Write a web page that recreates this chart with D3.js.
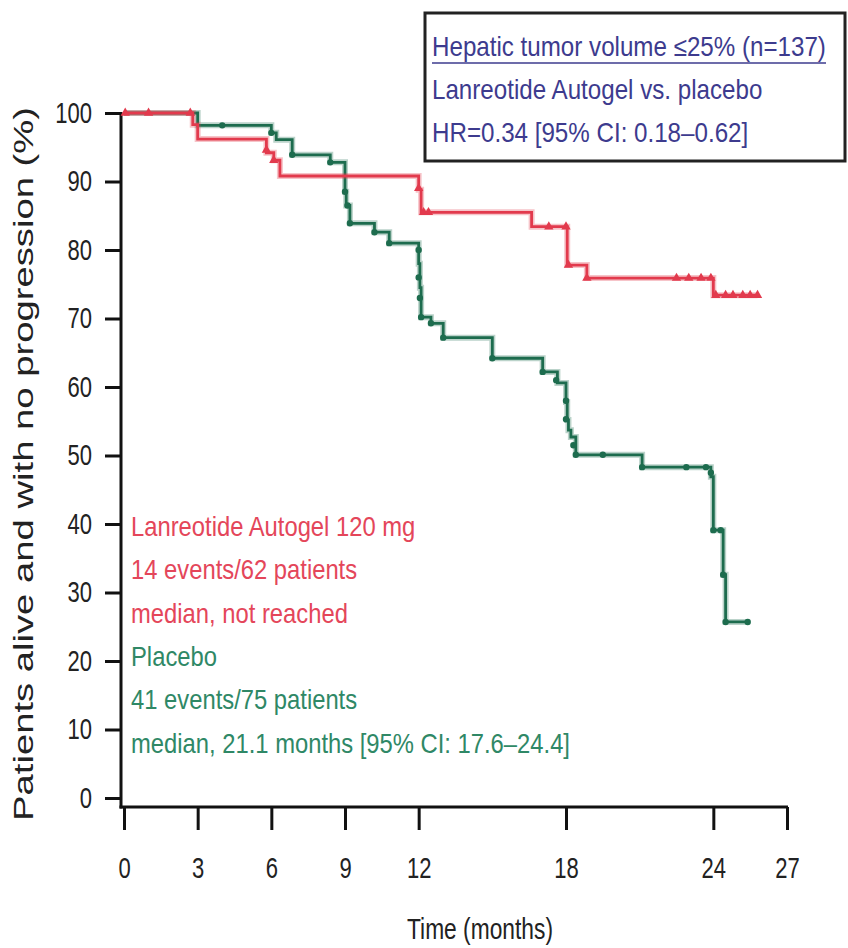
<!DOCTYPE html>
<html>
<head>
<meta charset="utf-8">
<script src="https://cdn.jsdelivr.net/npm/d3@7"></script>
<style>
  html, body { margin: 0; padding: 0; background: #fff; }
  svg { display: block; font-family: "Liberation Sans", Arial, sans-serif; }
</style>
</head>
<body>
<div id="graph_container"></div>
<script>
// axis ticks
const xTicks = [0, 3, 6, 9, 12, 18, 24, 27];
const yTicks = [0, 10, 20, 30, 40, 50, 60, 70, 80, 90, 100];

// Lanreotide Autogel 120 mg: step times (months) and survival after each step (%)
const lanTimes = [0, 2.8, 3.0, 5.8, 6.1, 6.35, 12.0, 12.1, 16.6, 18.05, 18.85, 24.0];
const lanSurv = [100, 98.3, 96.2, 94.2, 93.1, 90.8, 88.8, 85.5, 83.4, 77.8, 75.9, 73.4];
const lanEnd = 25.8;
const lanCensorTimes = [0.05, 1.0, 2.7, 5.8, 6.1, 12.0, 12.2, 12.4, 17.3, 18.0, 18.1, 18.85, 22.5, 23.0, 23.5, 23.9, 24.1, 24.5, 24.8, 25.2, 25.5, 25.8];
const lanCensorSurv = [100, 100, 100, 94.6, 93.1, 89.0, 85.5, 85.5, 83.4, 83.4, 77.8, 75.9, 75.9, 75.9, 75.9, 75.9, 73.4, 73.4, 73.4, 73.4, 73.4, 73.4];

// Placebo
const plaTimes = [0, 3.0, 6.0, 6.2, 6.85, 8.4, 9.0, 9.05, 9.2, 10.2, 10.8, 12.0, 12.05, 12.1, 12.5, 13.0, 15.0, 17.05, 17.65, 18.0, 18.05, 18.1, 18.2, 18.4, 21.1, 23.9, 24.0, 24.4, 24.5];
const plaSurv = [100, 98.2, 97.1, 96.1, 93.9, 92.8, 88.5, 86.5, 83.9, 82.6, 81.0, 78.0, 74.5, 70.2, 69.3, 67.2, 64.2, 62.2, 60.6, 57.8, 55.2, 53.7, 52.7, 50.1, 48.3, 46.9, 39.1, 32.6, 25.7];
const plaEnd = 25.4;
const plaCensorTimes = [4.0, 6.0, 6.85, 8.4, 9.0, 9.1, 9.2, 10.2, 10.8, 12.0, 12.0, 12.05, 12.1, 12.5, 13.0, 15.0, 17.05, 17.6, 18.0, 18.0, 18.3, 18.4, 19.5, 21.1, 22.9, 23.7, 23.9, 24.0, 24.3, 24.4, 24.5, 25.4];
const plaCensorSurv = [98.2, 97.1, 93.9, 92.8, 88.5, 86.5, 83.9, 82.6, 81.0, 80.0, 76.0, 73.0, 70.2, 69.3, 67.2, 64.2, 62.2, 61.0, 58.0, 55.3, 51.5, 50.1, 50.1, 48.3, 48.3, 48.3, 47.5, 39.1, 39.1, 32.6, 25.7, 25.7];

// annotation texts
const boxLines = ['Hepatic tumor volume \u226425% (n=137)', 'Lanreotide Autogel vs. placebo', 'HR=0.34 [95% CI: 0.18\u20130.62]'];
const lanLines = ['Lanreotide Autogel 120 mg', '14 events/62 patients', 'median, not reached'];
const plaLines = ['Placebo', '41 events/75 patients', 'median, 21.1 months [95% CI: 17.6\u201324.4]'];

const RED = '#e23a4d';
const GREEN = '#1d6c4e';
const RED_TEXT = '#e4465a';
const GREEN_TEXT = '#2f8866';
const BOX_TEXT = '#3d3b8e';
const NARROW = 0.76;

let svg, x, y;
const width = 848;
const height = 948;

function prepare() {
    svg = d3.select('#graph_container').append('svg')
        .attr('width', width).attr('height', height);

    x = d3.scaleLinear().domain([0, 27]).range([124, 787]);
    y = d3.scaleLinear().domain([0, 100]).range([798, 113]);
}

function drawAxes() {
    const axisY = 807;
    const axisX = 121;

    const gx = svg.append('g')
        .attr('transform', 'translate(0,' + axisY + ')')
        .call(d3.axisBottom(x).tickValues(xTicks).tickSize(23).tickSizeOuter(0).tickPadding(27));
    gx.select('.domain').remove();
    gx.selectAll('.tick line').attr('stroke', '#111').attr('stroke-width', 3);
    gx.selectAll('.tick text')
        .attr('fill', '#222').style('font-size', '29px')
        .attr('transform', 'scale(' + NARROW + ',1)');

    const gy = svg.append('g')
        .attr('transform', 'translate(' + axisX + ',0)')
        .call(d3.axisLeft(y).tickValues(yTicks).tickSize(16).tickSizeOuter(0));
    gy.select('.domain').remove();
    gy.selectAll('.tick line').attr('stroke', '#111').attr('stroke-width', 3);
    gy.selectAll('.tick text')
        .attr('fill', '#222').style('font-size', '29px')
        .attr('x', -29 / NARROW)
        .attr('transform', 'scale(' + NARROW + ',1)');

    // axis lines, the corner sits below y=0 like the original
    svg.append('line')
        .attr('x1', axisX).attr('x2', axisX)
        .attr('y1', y(100) - 1).attr('y2', axisY + 1.5)
        .attr('stroke', '#111').attr('stroke-width', 3);
    svg.append('line')
        .attr('x1', axisX - 1.5).attr('x2', x(27) + 1)
        .attr('y1', axisY).attr('y2', axisY)
        .attr('stroke', '#111').attr('stroke-width', 3);

    svg.append('text')
        .attr('x', 480).attr('y', 939)
        .attr('text-anchor', 'middle')
        .attr('fill', '#222').style('font-size', '29px')
        .attr('textLength', 146).attr('lengthAdjust', 'spacingAndGlyphs')
        .text('Time (months)');

    svg.append('text')
        .attr('transform', 'translate(33,464) rotate(-90)')
        .attr('text-anchor', 'middle')
        .attr('fill', '#222').style('font-size', '27px')
        .attr('textLength', 714).attr('lengthAdjust', 'spacingAndGlyphs')
        .text('Patients alive and with no progression (%)');
}

function drawCurve(times, surv, end, color) {
    const pts = times.map((t, i) => [t, surv[i]]);
    pts.push([end, surv[surv.length - 1]]);
    const line = d3.line()
        .x((d) => x(d[0]))
        .y((d) => y(d[1]))
        .curve(d3.curveStepAfter);
    // soft halo like the scanned original
    svg.append('path').datum(pts)
        .attr('d', line).attr('fill', 'none')
        .attr('stroke', color).attr('stroke-opacity', 0.3).attr('stroke-width', 6);
    svg.append('path').datum(pts)
        .attr('d', line).attr('fill', 'none')
        .attr('stroke', color).attr('stroke-width', 2.8);
}

function drawCensors(times, surv, color, symbol, size) {
    const sym = d3.symbol().type(symbol).size(size);
    svg.append('g').selectAll('path')
        .data(times.map((t, i) => [t, surv[i]]))
        .enter()
        .append('path')
        .attr('transform', (d) => 'translate(' + x(d[0]) + ',' + y(d[1]) + ')')
        .attr('d', sym)
        .attr('fill', color);
}

// one condensed block of text lines, squeezed evenly like the narrow original font
function drawTextBlock(lines, color, x0, y0, step, size, squeeze) {
    svg.append('g')
        .attr('transform', 'translate(' + x0 + ',' + y0 + ') scale(' + squeeze + ',1)')
        .selectAll('text')
        .data(lines)
        .enter()
        .append('text')
        .attr('x', 0)
        .attr('y', (d, i) => i * step)
        .attr('fill', color)
        .style('font-size', size + 'px')
        .text((d) => d);
}

function drawLegendBox() {
    svg.append('rect')
        .attr('x', 425).attr('y', 13)
        .attr('width', 420).attr('height', 148)
        .attr('fill', '#fff').attr('stroke', '#222').attr('stroke-width', 3);
    drawTextBlock(boxLines, BOX_TEXT, 432, 56, 43, 27, 0.895);
    svg.append('line')
        .attr('x1', 432).attr('x2', 826)
        .attr('y1', 63).attr('y2', 63)
        .attr('stroke', BOX_TEXT).attr('stroke-width', 1.5);
}

function draw() {
    drawAxes();
    drawCurve(plaTimes, plaSurv, plaEnd, GREEN);
    drawCurve(lanTimes, lanSurv, lanEnd, RED);
    drawCensors(plaCensorTimes, plaCensorSurv, GREEN, d3.symbolCircle, 32);
    drawCensors(lanCensorTimes, lanCensorSurv, RED, d3.symbolTriangle, 38);
    drawLegendBox();
    drawTextBlock(lanLines, RED_TEXT, 131, 536, 43.5, 28, 0.85);
    drawTextBlock(plaLines, GREEN_TEXT, 131, 666, 43.5, 28, 0.85);
}

prepare();
draw();
</script>
</body>
</html>
